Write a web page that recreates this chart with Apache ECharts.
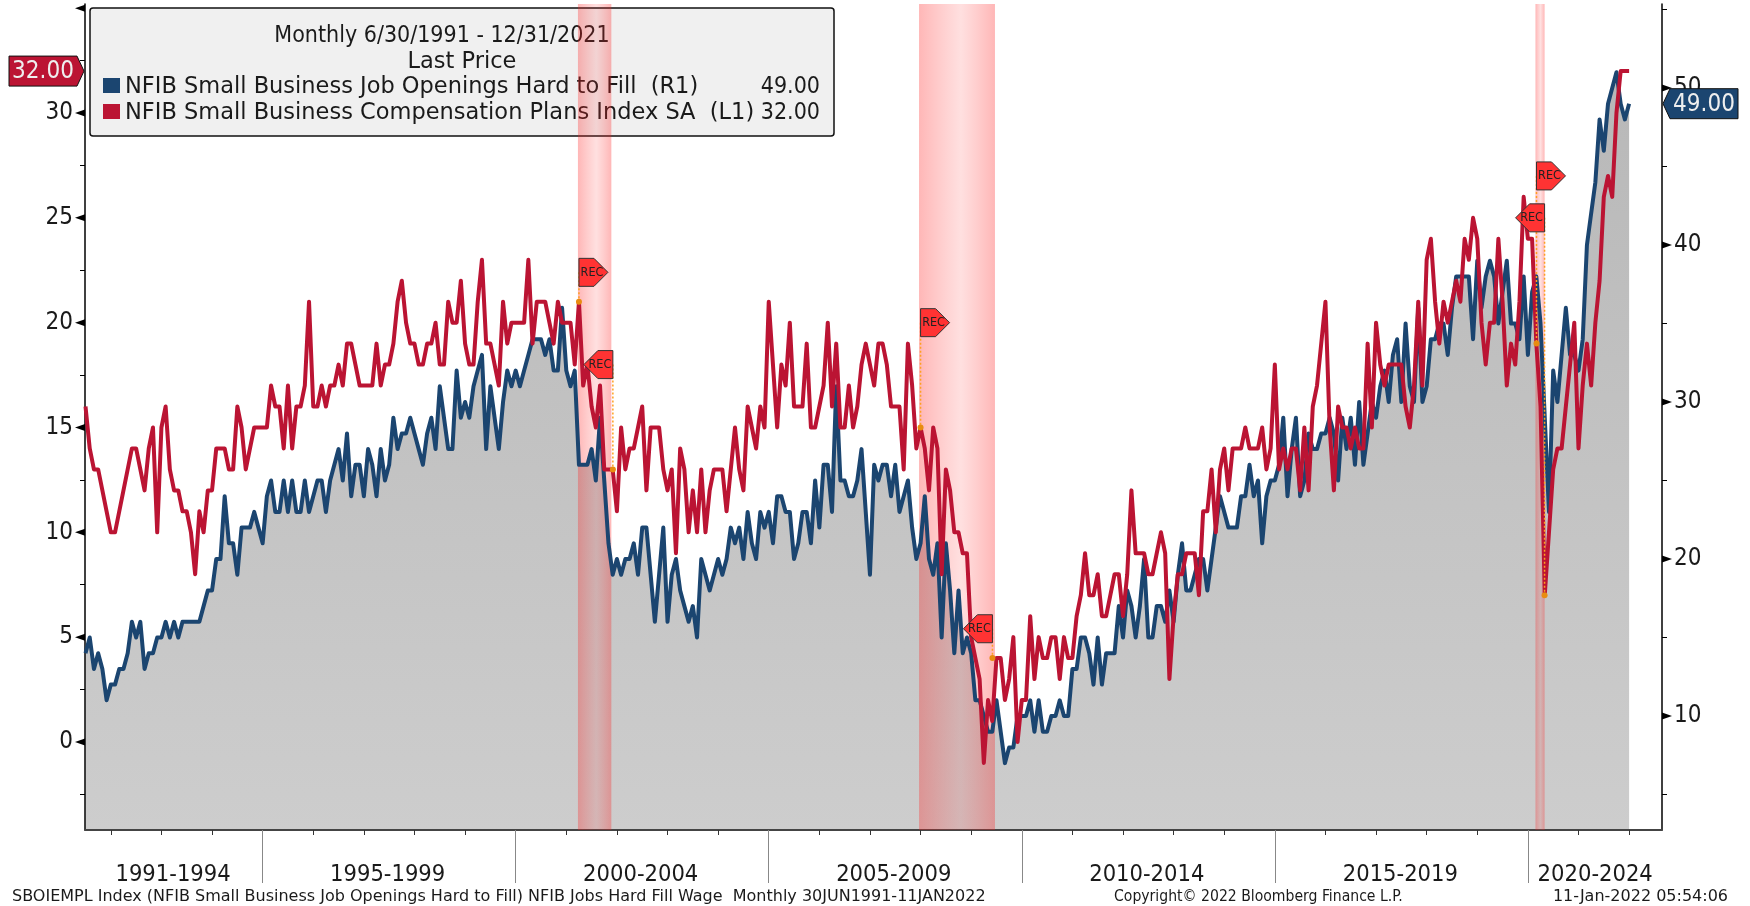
<!DOCTYPE html>
<html>
<head>
<meta charset="utf-8">
<title>NFIB Small Business</title>
<style>
html,body{margin:0;padding:0;background:#fff;}
#main{width:1750px;height:906px;}
</style>
<script src="https://cdn.jsdelivr.net/npm/echarts@6/dist/echarts.min.js"></script>
</head>
<body>
<div id="main"></div>
<script>
// monthly values, first point 6/30/1991, last point 12/31/2021
var compPlans = [
	16,14,13,13,12,11,10,10,11,12,13,14,
	14,13,12,14,15,10,15,16,13,12,12,11,
	11,10,8,11,10,12,12,14,14,14,13,13,
	16,15,13,14,15,15,15,15,17,16,16,14,
	17,14,16,16,17,21,16,16,17,16,17,17,
	18,17,19,19,18,17,17,17,17,19,17,18,
	18,19,21,22,20,19,19,18,18,19,19,20,
	18,18,21,20,20,22,19,18,18,21,23,19,
	19,18,17,21,19,20,20,20,20,23,19,21,
	21,21,20,19,21,20,20,20,18,21,17,18,
	16,15,17,13,13,13,11,15,13,14,14,15,
	16,12,15,15,15,13,12,13,9,14,13,10,
	12,10,13,10,12,13,13,13,11,13,15,13,
	12,16,15,14,16,15,21,18,15,18,17,20,
	16,16,16,19,15,15,16,17,20,16,19,15,
	15,17,15,16,18,19,18,17,19,19,18,16,
	16,16,13,19,17,14,15,14,12,15,14,8,
	13,12,10,10,9,9,5,4,3,-1,2,1,
	4,4,2,3,5,0,2,2,6,3,5,4,
	4,5,5,3,5,4,4,6,7,9,7,7,
	8,6,6,7,8,8,6,8,12,9,9,9,
	8,8,9,10,9,3,6,8,8,9,9,9,
	7,11,11,13,10,13,14,12,14,14,14,15,
	14,14,14,15,13,14,18,13,14,13,14,14,
	12,15,12,16,17,19,21,15,12,16,15,15,
	14,15,14,14,19,15,20,18,17,18,18,18,
	18,16,15,17,21,17,23,24,21,19,21,20,
	21,22,21,24,23,25,24,20,18,20,20,24,
	21,17,19,18,21,26,24,24,19,16,7,10,
	13,14,14,16,18,20,14,17,19,17,20,22,
	26,27,26,30,32,32,32
];
var jobOpenings = [
	14,15,13,14,13,11,12,12,13,13,14,16,
	15,16,13,14,14,15,15,16,15,16,15,16,
	16,16,16,16,17,18,18,20,20,24,21,21,
	19,22,22,22,23,22,21,24,25,23,23,25,
	23,25,23,23,25,23,24,25,25,23,25,26,
	27,25,28,24,26,26,24,27,26,24,27,25,
	26,29,27,28,28,29,28,27,26,28,29,27,
	31,29,27,27,32,29,30,29,31,32,33,27,
	31,29,27,30,32,31,32,31,32,33,34,34,
	34,33,34,32,32,36,32,31,32,26,26,26,
	27,25,29,25,21,19,20,19,20,20,21,19,
	22,22,19,16,19,22,16,19,20,18,17,16,
	17,15,20,19,18,19,20,19,20,22,21,22,
	20,23,21,20,23,22,23,21,24,24,23,23,
	20,21,23,23,21,25,22,26,26,23,31,25,
	25,24,24,25,27,23,19,26,25,26,26,24,
	26,23,24,25,22,20,21,24,20,19,21,15,
	21,18,14,18,14,15,14,11,11,10,9,9,
	11,9,7,8,8,10,10,10,11,9,11,9,
	9,10,10,11,10,10,13,13,15,15,14,12,
	15,12,14,14,14,17,15,18,17,15,17,20,
	15,15,17,17,16,18,16,19,21,18,18,19,
	20,20,18,20,22,24,23,22,22,22,24,24,
	26,24,25,21,24,25,25,26,29,24,27,29,
	24,25,28,27,27,28,28,29,28,25,29,27,
	29,26,30,26,28,30,29,31,32,30,33,34,
	30,35,31,30,36,30,31,34,34,35,35,33,
	36,38,38,38,38,34,39,36,38,39,38,35,
	37,39,35,35,34,38,33,37,38,35,29,23,
	32,30,33,36,33,33,32,34,40,42,44,48,
	46,49,50,51,49,48,49
];

// recessions, decimal years
var recessionStart = [2001.23, 2007.97, 2020.15];
var recessionEnd = [2001.89, 2009.47, 2020.33];

// REC flags: year, value on the red line, level of the flag on the left axis, side
var recYears = [2001.25, 2001.92, 2008.0, 2009.42, 2020.17, 2020.33];
var recValues = [21, 13, 15, 4, 19, 7];
var recFlagLevels = [22.4, 18, 20, 5.4, 27, 25];
var recSides = [1, -1, 1, -1, 1, -1];

var yearTicks = [1992,1993,1994,1995,1996,1997,1998,1999,2000,2001,2002,2003,2004,2005,2006,2007,2008,2009,2010,2011,2012,2013,2014,2015,2016,2017,2018,2019,2020,2021,2022];
var periodTicks = [1995,2000,2005,2010,2015,2020];
var periodLabels = ['1991-1994','1995-1999','2000-2004','2005-2009','2010-2014','2015-2019','2020-2024'];
var periodLabelYears = [1993.23,1997.47,2002.47,2007.47,2012.47,2017.48,2021.33];

var leftLabels = [0,5,10,15,20,25,30];
var leftMajor = [0,5,10,15,20,25,30,35];
var leftMinor = [-2.5,2.5,7.5,12.5,17.5,22.5,27.5,32.5];
var rightLabels = [10,20,30,40,50];
var rightMajor = [10,20,30,40,50];
var rightMinor = [5,15,25,35,45,55];

var lastRed = 32, lastBlue = 49;

var BLUE = '#1b4570', RED = '#bb1433';
var FONT = '"DejaVu Sans Condensed","DejaVu Sans",sans-serif';
var FONT_WIDE = '"DejaVu Sans",sans-serif';
var xMin = 1991.49, xMax = 2022.65;

function monthly(values) {
	var out = [];
	for (var i = 0; i < values.length; i++) {
		out.push([1991.5 + i / 12, values[i]]);
	}
	return out;
}

// recession band, pale in the middle
function renderBand(params, api) {
	var a = api.coord([api.value(0), 0]);
	var b = api.coord([api.value(1), 0]);
	var cs = params.coordSys;
	return {
		type: 'rect',
		shape: {x: a[0], y: cs.y, width: b[0] - a[0], height: cs.height},
		style: {
			fill: new echarts.graphic.LinearGradient(0, 0, 1, 0, [
				{offset: 0, color: 'rgba(255,30,30,0.32)'},
				{offset: 0.55, color: 'rgba(255,60,60,0.16)'},
				{offset: 1, color: 'rgba(255,30,30,0.32)'}
			])
		}
	};
}

// black wedge on a major tick, dir -1 left axis, 1 right axis
function wedge(dir, x) {
	return function(params, api) {
		var p = api.coord([x, api.value(1)]);
		return {
			type: 'polygon',
			shape: {points: [[p[0], p[1] - 3.5], [p[0], p[1] + 3.5], [p[0] + dir * 10, p[1]]]},
			style: {fill: '#000'}
		};
	};
}

function renderRec(params, api) {
	var dot = api.coord([api.value(0), api.value(1)]);
	var flag = api.coord([api.value(0), api.value(2)]);
	var side = api.value(3);
	var x = dot[0], y = flag[1];
	var h = 14;
	var pts = [[x, y - h], [x + side * 15, y - h], [x + side * 29, y], [x + side * 15, y + h], [x, y + h]];
	return {
		type: 'group',
		children: [
			{type: 'line', shape: {x1: x, y1: y, x2: x, y2: dot[1]}, style: {stroke: '#ffa020', lineWidth: 1.5, lineDash: [2, 2]}},
			{type: 'circle', shape: {cx: x, cy: dot[1], r: 3}, style: {fill: '#e88c10'}},
			{type: 'polygon', shape: {points: pts}, style: {fill: '#ff3333', stroke: '#333', lineWidth: 1}},
			{type: 'text', style: {x: x + side * 13, y: y, text: 'REC', fill: '#222', font: '12.5px ' + FONT, textAlign: 'center', textVerticalAlign: 'middle'}}
		]
	};
}

// price tag on the axis
function lastTag(dir, color, text) {
	return function(params, api) {
		var p = api.coord([api.value(0), api.value(1)]);
		var x = p[0] + dir, y = p[1], h = 15;
		var pts = [[x, y], [x + dir * 7, y - h], [x + dir * 75, y - h], [x + dir * 75, y + h], [x + dir * 7, y + h]];
		return {
			type: 'group',
			children: [
				{type: 'polygon', shape: {points: pts}, style: {fill: color, stroke: '#111', lineWidth: 1}},
				{type: 'text', style: {x: x + dir * 41, y: y + 1, text: text, fill: '#eee', font: '24px ' + FONT, textAlign: 'center', textVerticalAlign: 'middle'}}
			]
		};
	};
}

function pairs(list) {
	return list.map(function(v) { return [xMin, v]; });
}

function label(text, x, y, font, align) {
	return {
		type: 'text', z: -1, x: x, y: y,
		style: {text: text, fill: '#1a1a1a', font: font, textAlign: align || 'left', textVerticalAlign: 'middle'}
	};
}

var option = {
	animation: false,
	backgroundColor: '#fff',
	grid: {left: 85, right: 88, top: 4, bottom: 76},
	xAxis: [{
		type: 'value', min: xMin, max: xMax, position: 'bottom',
		axisLine: {show: true, onZero: false, lineStyle: {color: '#444', width: 2}},
		axisTick: {show: true, length: 5, lineStyle: {color: '#333', width: 1}, customValues: yearTicks},
		axisLabel: {show: false},
		splitLine: {show: false}
	}, {
		type: 'value', min: xMin, max: xMax, position: 'bottom',
		axisLine: {show: false, onZero: false},
		axisTick: {show: true, length: 53, lineStyle: {color: '#888', width: 1}, customValues: periodTicks},
		axisLabel: {
			show: true, margin: 33, color: '#1a1a1a', fontSize: 23.5, fontFamily: FONT,
			customValues: periodLabelYears,
			formatter: function(v) {
				for (var i = 0; i < periodLabelYears.length; i++) {
					if (Math.abs(periodLabelYears[i] - v) < 0.01) return periodLabels[i];
				}
				return '';
			}
		},
		splitLine: {show: false}
	}],
	yAxis: [{
		type: 'value', min: -4.2, max: 35.2, position: 'left',
		axisLine: {show: true, onZero: false, lineStyle: {color: '#000', width: 1.5}},
		axisTick: {show: true, length: 5, lineStyle: {color: '#000', width: 1}, customValues: leftMajor.concat(leftMinor)},
		axisLabel: {color: '#1a1a1a', fontSize: 24, fontFamily: FONT, margin: 12, padding: [3, 0, 0, 0], customValues: leftLabels},
		splitLine: {show: false}
	}, {
		type: 'value', min: 2.74, max: 55.35, position: 'right',
		axisLine: {show: true, onZero: false, lineStyle: {color: '#000', width: 1.5}},
		axisTick: {show: true, length: 5, lineStyle: {color: '#000', width: 1}, customValues: rightMajor.concat(rightMinor)},
		axisLabel: {color: '#1a1a1a', fontSize: 24, fontFamily: FONT, margin: 12, padding: [3, 0, 0, 0], customValues: rightLabels},
		splitLine: {show: false}
	}],
	series: [{
		// grey fill under the job openings line
		type: 'line', name: 'fill', yAxisIndex: 1, z: 0, showSymbol: false, silent: true,
		data: monthly(jobOpenings),
		lineStyle: {width: 0},
		areaStyle: {
			origin: 'start', opacity: 1,
			color: new echarts.graphic.LinearGradient(0, 0, 0, 1, [
				{offset: 0, color: '#b8b8b8'},
				{offset: 1, color: '#cdcdcd'}
			])
		}
	}, {
		type: 'custom', z: 1, silent: true, renderItem: renderBand,
		data: recessionStart.map(function(s, i) { return [s, recessionEnd[i]]; })
	}, {
		type: 'line', name: 'NFIB Small Business Job Openings Hard to Fill', yAxisIndex: 1, z: 3, showSymbol: false,
		data: monthly(jobOpenings),
		lineStyle: {color: BLUE, width: 4, join: 'round'}
	}, {
		type: 'line', name: 'NFIB Small Business Compensation Plans Index SA', yAxisIndex: 0, z: 4, showSymbol: false,
		data: monthly(compPlans),
		lineStyle: {color: RED, width: 4, join: 'round'}
	}, {
		type: 'custom', z: 5, silent: true, yAxisIndex: 0, renderItem: renderRec,
		data: recYears.map(function(y, i) { return [y, recValues[i], recFlagLevels[i], recSides[i]]; })
	}, {
		type: 'custom', z: 6, silent: true, yAxisIndex: 0, renderItem: wedge(-1, xMin), data: pairs(leftMajor)
	}, {
		type: 'custom', z: 6, silent: true, yAxisIndex: 1, renderItem: wedge(1, xMax), data: pairs(rightMajor)
	}, {
		type: 'custom', z: 7, silent: true, yAxisIndex: 0, renderItem: lastTag(-1, RED, lastRed.toFixed(2)),
		data: [[xMin, lastRed]]
	}, {
		type: 'custom', z: 7, silent: true, yAxisIndex: 1, renderItem: lastTag(1, BLUE, lastBlue.toFixed(2)),
		data: [[xMax, lastBlue]]
	}],
	graphic: [
		{type: 'rect', z: -2, shape: {x: 90, y: 8, width: 744, height: 128, r: 3}, style: {fill: '#f0f0f0', stroke: '#111', lineWidth: 1.5}},
		label('Monthly 6/30/1991 - 12/31/2021', 442, 36, '23px ' + FONT, 'center'),
		label('Last Price', 462, 62, '22.5px ' + FONT_WIDE, 'center'),
		{type: 'rect', z: -1, shape: {x: 103, y: 78, width: 17, height: 15}, style: {fill: BLUE}},
		{type: 'rect', z: -1, shape: {x: 103, y: 104, width: 17, height: 15}, style: {fill: RED}},
		label('NFIB Small Business Job Openings Hard to Fill  (R1)', 125, 87, '22.5px ' + FONT_WIDE),
		label('NFIB Small Business Compensation Plans Index SA  (L1)', 125, 113, '22.5px ' + FONT_WIDE),
		label('49.00', 820, 87, '23px ' + FONT, 'right'),
		label('32.00', 820, 113, '23px ' + FONT, 'right'),
		label('SBOIEMPL Index (NFIB Small Business Job Openings Hard to Fill) NFIB Jobs Hard Fill Wage  Monthly 30JUN1991-11JAN2022', 12, 897, '16px ' + FONT_WIDE),
		label('Copyright\u00a9 2022 Bloomberg Finance L.P.', 1114, 897, '15.6px ' + FONT),
		label('11-Jan-2022 05:54:06', 1728, 897, '16px ' + FONT_WIDE, 'right')
	]
};

var myChart = echarts.init(document.getElementById('main'), null, {renderer: 'canvas'});
myChart.setOption(option);
</script>
</body>
</html>
